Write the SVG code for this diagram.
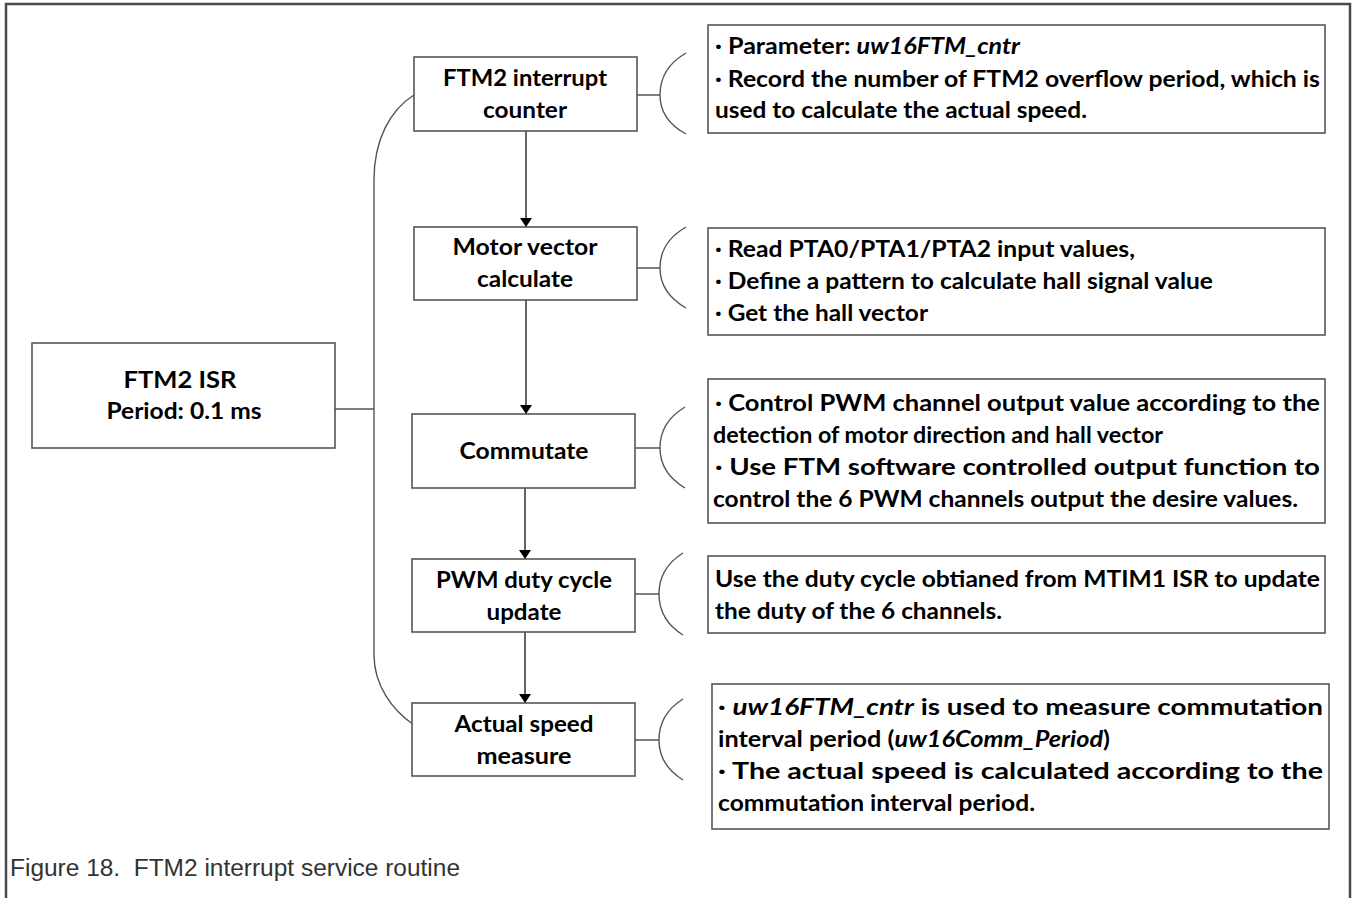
<svg xmlns="http://www.w3.org/2000/svg" width="1354" height="898" viewBox="0 0 1354 898">
  <defs>
    <style>
      .frame { fill: none; stroke: #4a4a4a; stroke-width: 2.5; }
      .box { fill: #fff; stroke: #555; stroke-width: 1.6; }
      .wire { fill: none; stroke: #555; stroke-width: 1.4; }
      .flow { fill: none; stroke: #111; stroke-width: 1.3; }
      .lbl { font-family: Lato, "Liberation Sans", sans-serif; font-weight: bold; font-size: 22px; fill: #000; }
      .mid { text-anchor: middle; }
      .it { font-style: italic; }
      .cap { font-family: "Liberation Sans", Arial, sans-serif; font-size: 23px; fill: #333; white-space: pre; }
    </style>
    <marker id="arrow" viewBox="0 0 9 12" refX="9" refY="6" markerWidth="9" markerHeight="13" markerUnits="userSpaceOnUse" orient="auto">
      <path d="M0,0 L9,6 L0,12 Z" fill="#000"/>
    </marker>
  </defs>

  <rect width="1354" height="898" fill="#fff"/>
  <path class="frame" d="M6,900 V4 H1350 V900"/>

  <!-- connectors -->
  <g id="connectors">
    <!-- ISR to the step bus -->
    <path class="wire" d="M335,409 H374"/>
    <path class="wire" d="M414,95 C390,110 374,140 374,180 V655 C374,685 392,710 414,725"/>
    <!-- step sequence -->
    <path class="flow" d="M526,131 V227" marker-end="url(#arrow)"/>
    <path class="flow" d="M526,300 V414" marker-end="url(#arrow)"/>
    <path class="flow" d="M525,488 V559" marker-end="url(#arrow)"/>
    <path class="flow" d="M525,632 V703" marker-end="url(#arrow)"/>
    <!-- step to note braces -->
    <path class="wire" d="M637,95 H660 M686,53 Q660,68 660,95 Q660,120 686,134"/>
    <path class="wire" d="M637,268 H660 M686,227 Q660,242 660,268 Q660,293 686,308"/>
    <path class="wire" d="M635,448 H660 M685,407 Q660,422 660,448 Q660,473 685,488"/>
    <path class="wire" d="M635,594 H659 M683,553 Q659,568 659,594 Q659,620 683,635"/>
    <path class="wire" d="M634,740 H659 M683,699 Q659,714 659,740 Q659,765 683,780"/>
  </g>

  <!-- ISR entry -->
  <g id="isr">
    <rect class="box" x="32" y="343" width="303" height="105"/>
    <text class="lbl mid" x="180" y="388" textLength="113" lengthAdjust="spacingAndGlyphs">FTM2 ISR</text>
    <text class="lbl mid" x="184" y="419" textLength="155" lengthAdjust="spacingAndGlyphs">Period: 0.1 ms</text>
  </g>

  <!-- steps -->
  <g id="step-counter">
    <rect class="box" x="414" y="57" width="223" height="74"/>
    <text class="lbl mid" x="525" y="86" textLength="164" lengthAdjust="spacingAndGlyphs">FTM2 interrupt</text>
    <text class="lbl mid" x="525" y="118" textLength="84" lengthAdjust="spacingAndGlyphs">counter</text>
  </g>
  <g id="step-vector">
    <rect class="box" x="414" y="227" width="223" height="73"/>
    <text class="lbl mid" x="525" y="255" textLength="145" lengthAdjust="spacingAndGlyphs">Motor vector</text>
    <text class="lbl mid" x="525" y="287" textLength="96" lengthAdjust="spacingAndGlyphs">calculate</text>
  </g>
  <g id="step-commutate">
    <rect class="box" x="412" y="414" width="223" height="74"/>
    <text class="lbl mid" x="524" y="459" textLength="129" lengthAdjust="spacingAndGlyphs">Commutate</text>
  </g>
  <g id="step-pwm">
    <rect class="box" x="412" y="559" width="223" height="73"/>
    <text class="lbl mid" x="524" y="588" textLength="176" lengthAdjust="spacingAndGlyphs">PWM duty cycle</text>
    <text class="lbl mid" x="524" y="620" textLength="75" lengthAdjust="spacingAndGlyphs">update</text>
  </g>
  <g id="step-speed">
    <rect class="box" x="412" y="703" width="223" height="73"/>
    <text class="lbl mid" x="524" y="732" textLength="139" lengthAdjust="spacingAndGlyphs">Actual speed</text>
    <text class="lbl mid" x="524" y="764" textLength="95" lengthAdjust="spacingAndGlyphs">measure</text>
  </g>

  <!-- notes -->
  <g id="note-counter">
    <rect class="box" x="708" y="25" width="617" height="108"/>
    <text class="lbl" x="715" y="54" textLength="305" lengthAdjust="spacingAndGlyphs">· Parameter: <tspan class="it">uw16FTM_cntr</tspan></text>
    <text class="lbl" x="715" y="87" textLength="605" lengthAdjust="spacingAndGlyphs">· Record the number of FTM2 overflow period, which is</text>
    <text class="lbl" x="715" y="118" textLength="372" lengthAdjust="spacingAndGlyphs">used to calculate the actual speed.</text>
  </g>
  <g id="note-vector">
    <rect class="box" x="708" y="228" width="617" height="107"/>
    <text class="lbl" x="715" y="257" textLength="420" lengthAdjust="spacingAndGlyphs">· Read PTA0/PTA1/PTA2 input values,</text>
    <text class="lbl" x="715" y="289" textLength="498" lengthAdjust="spacingAndGlyphs">· Define a pattern to calculate hall signal value</text>
    <text class="lbl" x="715" y="321" textLength="213" lengthAdjust="spacingAndGlyphs">· Get the hall vector</text>
  </g>
  <g id="note-commutate">
    <rect class="box" x="708" y="379" width="617" height="144"/>
    <text class="lbl" x="715" y="411" textLength="605" lengthAdjust="spacingAndGlyphs">· Control PWM channel output value according to the</text>
    <text class="lbl" x="713" y="443" textLength="450" lengthAdjust="spacingAndGlyphs">detection of motor direction and hall vector</text>
    <text class="lbl" x="715" y="475" textLength="605" lengthAdjust="spacingAndGlyphs">· Use FTM software controlled output function to</text>
    <text class="lbl" x="713" y="507" textLength="585" lengthAdjust="spacingAndGlyphs">control the 6 PWM channels output the desire values.</text>
  </g>
  <g id="note-pwm">
    <rect class="box" x="708" y="556" width="617" height="77"/>
    <text class="lbl" x="715" y="587" textLength="605" lengthAdjust="spacingAndGlyphs">Use the duty cycle obtianed from MTIM1 ISR to update</text>
    <text class="lbl" x="715" y="619" textLength="287" lengthAdjust="spacingAndGlyphs">the duty of the 6 channels.</text>
  </g>
  <g id="note-speed">
    <rect class="box" x="712" y="684" width="617" height="145"/>
    <text class="lbl" x="718" y="715" textLength="605" lengthAdjust="spacingAndGlyphs">· <tspan class="it">uw16FTM_cntr</tspan> is used to measure commutation</text>
    <text class="lbl" x="718" y="747" textLength="392" lengthAdjust="spacingAndGlyphs">interval period (<tspan class="it">uw16Comm_Period</tspan>)</text>
    <text class="lbl" x="718" y="779" textLength="605" lengthAdjust="spacingAndGlyphs">· The actual speed is calculated according to the</text>
    <text class="lbl" x="718" y="811" textLength="317" lengthAdjust="spacingAndGlyphs">commutation interval period.</text>
  </g>

  <text class="cap" x="10" y="876" textLength="450" lengthAdjust="spacingAndGlyphs">Figure 18.  FTM2 interrupt service routine</text>
</svg>
